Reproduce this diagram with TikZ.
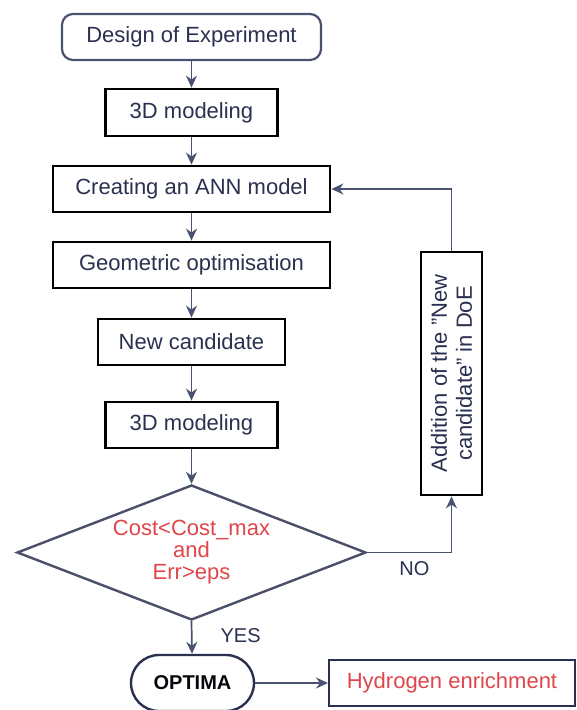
\documentclass[tikz,border=0pt]{standalone}
\usepackage{fontspec}
\setmainfont{Liberation Sans}
\usetikzlibrary{shapes.geometric,arrows.meta}
\definecolor{navy}{HTML}{2A3050}
\definecolor{linec}{HTML}{4A5272}
\definecolor{redt}{HTML}{E0454A}
\tikzset{
  base/.style={font=\fontsize{22}{25}\selectfont, text=navy, inner sep=0pt, align=center},
  thickbox/.style={base, draw=black, line width=2.8pt, rectangle},
  conn/.style={draw=linec, line width=1.7pt, -{Stealth[length=12pt,width=11pt]}},
}
\begin{document}
\begin{tikzpicture}[x=1pt, y={(0,-1pt)}]
\useasboundingbox (0,0) rectangle (577,710);
\node[base, draw=linec, line width=2.2pt, rounded corners=11pt, minimum width=259pt, minimum height=46pt] (doe) at (191.5,37) {Design of Experiment};
\node[thickbox, minimum width=172pt, minimum height=47pt] (m1) at (191.5,112.5) {3D modeling};
\node[thickbox, minimum width=277pt, minimum height=46pt] (ann) at (191.5,189) {Creating an ANN model};
\node[thickbox, minimum width=277pt, minimum height=46pt] (geo) at (191.5,265) {Geometric optimisation};
\node[thickbox, minimum width=187pt, minimum height=46pt] (nc) at (191.5,342) {New candidate};
\node[thickbox, minimum width=172pt, minimum height=46pt] (m2) at (191.5,425) {3D modeling};
\node[base, diamond, aspect=2.585, draw=navy!85, line width=2.4pt, minimum width=349pt, minimum height=135pt, text=redt, font=\fontsize{22}{22}\selectfont] (dia) at (191.5,552.5) {Cost<Cost\_max\\and\\Err>eps};
\node[thickbox, rotate=90, minimum width=243pt, minimum height=61pt] (add) at (451.5,373.5) {Addition of the \symbol{34}New\\candidate\symbol{34} in DoE};
\node[base, draw=navy, line width=2.4pt, rounded corners=28pt, minimum width=123pt, minimum height=56pt, font=\fontsize{20}{22}\selectfont\bfseries, text=black!85!navy] (opt) at (192.5,683) {OPTIMA};
\node[base, draw=navy, line width=2pt, minimum width=246pt, minimum height=46pt, text=redt] (hyd) at (452,683) {Hydrogen enrichment};
\draw[conn] (doe) -- (m1);
\draw[conn] (m1) -- (ann);
\draw[conn] (ann) -- (geo);
\draw[conn] (geo) -- (nc);
\draw[conn] (nc) -- (m2);
\draw[conn] (m2) -- (dia.north);
\draw[conn] (dia.south) -- (opt) node[base, pos=0.45, right=28pt, font=\fontsize{20}{22}\selectfont] (yes) {YES};
\draw[conn] (dia.east) -| (add.west) node[base, pos=0.28, below=8pt, font=\fontsize{20}{22}\selectfont] (no) {NO};
\draw[conn] (add.east) |- (ann.east);
\draw[conn] (opt) -- (hyd);
\end{tikzpicture}
\end{document}
